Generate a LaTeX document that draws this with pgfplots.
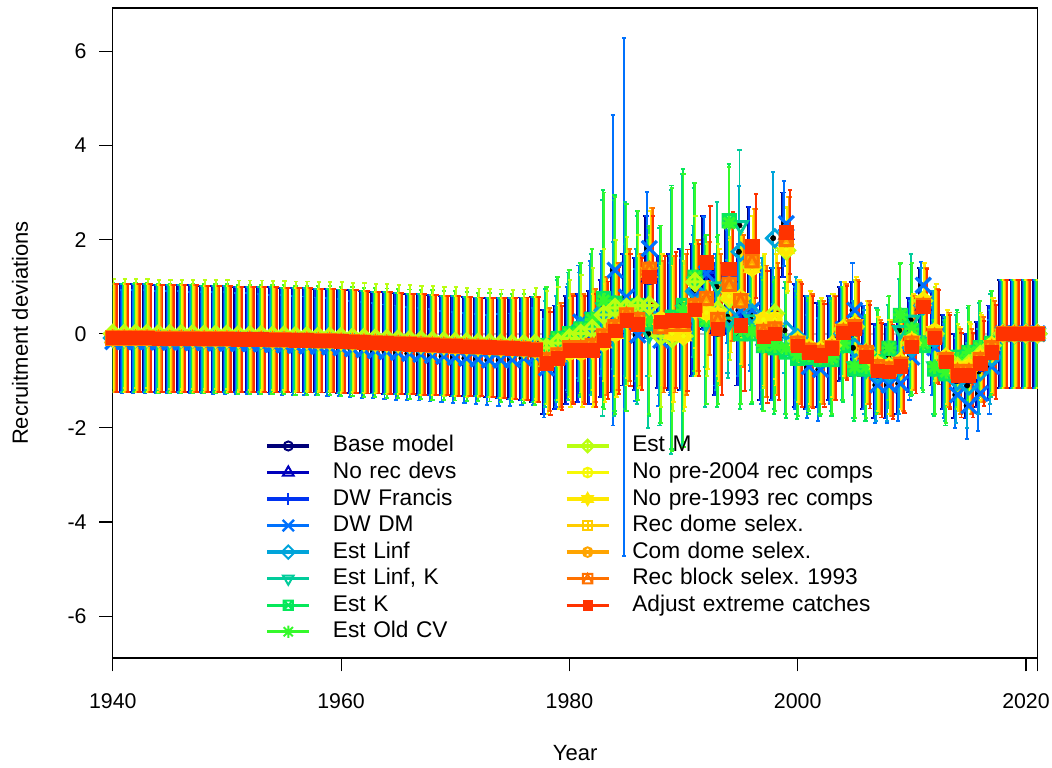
\documentclass[border=0pt]{standalone}
\usepackage{fontspec}
\setmainfont{Liberation Sans}
\usepackage{pgfplots}
\usepackage{pgfplotstable}
\pgfplotsset{compat=1.18}

\definecolor{c1}{HTML}{000079}
\definecolor{c2}{HTML}{0000BC}
\definecolor{c3}{HTML}{0033F1}
\definecolor{c4}{HTML}{0071FD}
\definecolor{c5}{HTML}{00A4DA}
\definecolor{c6}{HTML}{01CC9B}
\definecolor{c7}{HTML}{06E85A}
\definecolor{c8}{HTML}{35F92B}
\definecolor{c9}{HTML}{BAFF11}
\definecolor{c10}{HTML}{F6F905}
\definecolor{c11}{HTML}{FEE801}
\definecolor{c12}{HTML}{FFCC00}
\definecolor{c13}{HTML}{FFA400}
\definecolor{c14}{HTML}{FF7100}
\definecolor{c15}{HTML}{FF3300}
\definecolor{zgrey}{HTML}{BEBEBE}

\pgfdeclareplotmark{dia}{%
  \pgfpathmoveto{\pgfpoint{0pt}{\pgfplotmarksize}}\pgfpathlineto{\pgfpoint{\pgfplotmarksize}{0pt}}%
  \pgfpathlineto{\pgfpoint{0pt}{-\pgfplotmarksize}}\pgfpathlineto{\pgfpoint{-\pgfplotmarksize}{0pt}}\pgfpathclose
  \pgfusepathqstroke}
\pgfdeclareplotmark{sqx}{%
  \pgfpathrectangle{\pgfpoint{-\pgfplotmarksize}{-\pgfplotmarksize}}{\pgfpoint{2\pgfplotmarksize}{2\pgfplotmarksize}}%
  \pgfpathmoveto{\pgfpoint{-\pgfplotmarksize}{-\pgfplotmarksize}}\pgfpathlineto{\pgfpoint{\pgfplotmarksize}{\pgfplotmarksize}}%
  \pgfpathmoveto{\pgfpoint{-\pgfplotmarksize}{\pgfplotmarksize}}\pgfpathlineto{\pgfpoint{\pgfplotmarksize}{-\pgfplotmarksize}}%
  \pgfusepathqstroke}
\pgfdeclareplotmark{ast8}{%
  \pgfpathmoveto{\pgfpoint{-\pgfplotmarksize}{0pt}}\pgfpathlineto{\pgfpoint{\pgfplotmarksize}{0pt}}%
  \pgfpathmoveto{\pgfpoint{0pt}{-\pgfplotmarksize}}\pgfpathlineto{\pgfpoint{0pt}{\pgfplotmarksize}}%
  \pgfpathmoveto{\pgfpoint{-.75\pgfplotmarksize}{-.75\pgfplotmarksize}}\pgfpathlineto{\pgfpoint{.75\pgfplotmarksize}{.75\pgfplotmarksize}}%
  \pgfpathmoveto{\pgfpoint{-.75\pgfplotmarksize}{.75\pgfplotmarksize}}\pgfpathlineto{\pgfpoint{.75\pgfplotmarksize}{-.75\pgfplotmarksize}}%
  \pgfusepathqstroke}
\pgfdeclareplotmark{dplus}{%
  \pgfpathmoveto{\pgfpoint{0pt}{1.2\pgfplotmarksize}}\pgfpathlineto{\pgfpoint{1.2\pgfplotmarksize}{0pt}}%
  \pgfpathlineto{\pgfpoint{0pt}{-1.2\pgfplotmarksize}}\pgfpathlineto{\pgfpoint{-1.2\pgfplotmarksize}{0pt}}\pgfpathclose
  \pgfpathmoveto{\pgfpoint{-1.2\pgfplotmarksize}{0pt}}\pgfpathlineto{\pgfpoint{1.2\pgfplotmarksize}{0pt}}%
  \pgfpathmoveto{\pgfpoint{0pt}{-1.2\pgfplotmarksize}}\pgfpathlineto{\pgfpoint{0pt}{1.2\pgfplotmarksize}}%
  \pgfusepathqstroke}
\pgfdeclareplotmark{david}{%
  \pgfpathmoveto{\pgfpoint{0pt}{\pgfplotmarksize}}\pgfpathlineto{\pgfpoint{.866\pgfplotmarksize}{-.5\pgfplotmarksize}}%
  \pgfpathlineto{\pgfpoint{-.866\pgfplotmarksize}{-.5\pgfplotmarksize}}\pgfpathclose
  \pgfpathmoveto{\pgfpoint{0pt}{-\pgfplotmarksize}}\pgfpathlineto{\pgfpoint{.866\pgfplotmarksize}{.5\pgfplotmarksize}}%
  \pgfpathlineto{\pgfpoint{-.866\pgfplotmarksize}{.5\pgfplotmarksize}}\pgfpathclose
  \pgfusepathqstroke}
\pgfdeclareplotmark{splus}{%
  \pgfpathrectangle{\pgfpoint{-\pgfplotmarksize}{-\pgfplotmarksize}}{\pgfpoint{2\pgfplotmarksize}{2\pgfplotmarksize}}%
  \pgfpathmoveto{\pgfpoint{-\pgfplotmarksize}{0pt}}\pgfpathlineto{\pgfpoint{\pgfplotmarksize}{0pt}}%
  \pgfpathmoveto{\pgfpoint{0pt}{-\pgfplotmarksize}}\pgfpathlineto{\pgfpoint{0pt}{\pgfplotmarksize}}%
  \pgfusepathqstroke}
\pgfdeclareplotmark{sqtri}{%
  \pgfpathrectangle{\pgfpoint{-\pgfplotmarksize}{-\pgfplotmarksize}}{\pgfpoint{2\pgfplotmarksize}{2\pgfplotmarksize}}%
  \pgfpathmoveto{\pgfpoint{-\pgfplotmarksize}{-\pgfplotmarksize}}\pgfpathlineto{\pgfpoint{0pt}{\pgfplotmarksize}}%
  \pgfpathlineto{\pgfpoint{\pgfplotmarksize}{-\pgfplotmarksize}}%
  \pgfusepathqstroke}

% 1940-1977: a = most models, m = Est M, d = DW DM; e, em, ed = half widths of the intervals
\pgfplotstableread{
yr a m d e em ed
1940 -0.09 0.00 -0.17 1.14 1.16 1.09
1941 -0.09 0.00 -0.17 1.14 1.16 1.09
1942 -0.09 0.00 -0.17 1.14 1.16 1.09
1943 -0.09 0.00 -0.17 1.14 1.16 1.09
1944 -0.10 -0.01 -0.18 1.14 1.16 1.09
1945 -0.10 -0.01 -0.18 1.14 1.16 1.09
1946 -0.10 -0.01 -0.18 1.13 1.16 1.08
1947 -0.10 -0.01 -0.19 1.13 1.16 1.08
1948 -0.11 -0.02 -0.19 1.13 1.16 1.08
1949 -0.11 -0.02 -0.20 1.13 1.16 1.08
1950 -0.11 -0.02 -0.20 1.13 1.16 1.08
1951 -0.12 -0.03 -0.21 1.12 1.16 1.07
1952 -0.12 -0.03 -0.21 1.12 1.16 1.07
1953 -0.12 -0.03 -0.22 1.12 1.16 1.07
1954 -0.13 -0.04 -0.23 1.12 1.16 1.06
1955 -0.13 -0.04 -0.24 1.11 1.16 1.06
1956 -0.14 -0.05 -0.25 1.11 1.16 1.05
1957 -0.14 -0.05 -0.26 1.11 1.16 1.05
1958 -0.15 -0.06 -0.27 1.10 1.16 1.04
1959 -0.15 -0.06 -0.28 1.10 1.16 1.04
1960 -0.16 -0.07 -0.30 1.10 1.16 1.03
1961 -0.17 -0.08 -0.32 1.09 1.16 1.02
1962 -0.18 -0.09 -0.34 1.09 1.16 1.02
1963 -0.19 -0.10 -0.36 1.08 1.16 1.01
1964 -0.20 -0.11 -0.38 1.08 1.16 1.00
1965 -0.21 -0.12 -0.40 1.08 1.16 1.00
1966 -0.22 -0.13 -0.42 1.07 1.16 0.99
1967 -0.23 -0.14 -0.44 1.07 1.16 0.98
1968 -0.24 -0.15 -0.46 1.06 1.16 0.98
1969 -0.25 -0.16 -0.48 1.06 1.16 0.97
1970 -0.26 -0.17 -0.50 1.06 1.16 0.97
1971 -0.27 -0.18 -0.52 1.05 1.16 0.96
1972 -0.28 -0.19 -0.54 1.05 1.15 0.96
1973 -0.29 -0.20 -0.56 1.05 1.15 0.96
1974 -0.30 -0.21 -0.56 1.06 1.15 0.97
1975 -0.31 -0.22 -0.55 1.07 1.15 0.98
1976 -0.32 -0.22 -0.52 1.09 1.16 1.00
1977 -0.34 -0.21 -0.48 1.12 1.18 1.03
}\early

% 1978-2021
\pgfplotstableread{
yr B D L LK K O M Y R A e eg em ed
1978 -0.60 -0.73 -0.40 -0.30 -0.25 -0.25 -0.30 -0.60 -0.55 -0.63 1.10 1.25 1.20 1.05
1979 -0.50 -0.50 -0.30 -0.15 -0.10 -0.10 -0.20 -0.50 -0.45 -0.52 1.10 1.30 1.20 1.05
1980 -0.35 -0.10 -0.10 -0.05 0.00 0.00 -0.10 -0.40 -0.30 -0.35 1.15 1.35 1.25 1.10
1981 -0.30 0.25 0.15 0.05 0.10 0.10 0.00 -0.40 -0.30 -0.35 1.15 1.40 1.25 1.20
1982 -0.30 0.30 0.25 0.20 0.30 0.30 0.10 -0.35 -0.25 -0.35 1.20 1.50 1.30 1.25
1983 -0.10 0.40 0.50 0.55 0.75 0.70 0.40 -0.20 -0.05 -0.14 1.25 2.30 1.40 1.30
1984 0.10 1.35 0.60 0.55 0.65 0.60 0.55 0.00 0.15 0.07 1.35 2.30 1.45 3.30
1985 0.30 0.78 0.50 0.60 0.55 0.55 0.55 0.30 0.40 0.29 1.40 2.20 1.50 5.50
1986 0.20 -0.03 0.40 0.50 0.60 0.60 0.60 0.25 0.30 0.20 1.40 2.00 1.50 1.40
1987 1.20 1.81 0.40 0.00 0.25 0.30 0.60 1.30 1.37 1.21 1.30 2.00 1.50 1.20
1988 0.25 -0.14 0.10 0.15 0.20 0.20 -0.05 0.30 0.15 0.25 1.40 2.10 1.50 1.40
1989 0.25 0.10 0.20 0.25 0.35 0.30 -0.10 0.00 0.20 0.29 1.45 2.80 1.55 1.40
1990 0.30 0.20 0.30 0.50 0.60 0.50 -0.05 -0.05 0.20 0.29 1.50 2.90 1.60 1.40
1991 0.50 0.80 0.90 1.10 1.20 1.20 1.10 0.50 0.60 0.51 1.40 2.00 1.40 1.30
1992 1.30 1.28 0.50 0.25 0.30 0.30 0.50 0.45 0.75 1.52 1.20 1.80 1.40 1.20
1993 0.10 0.30 0.20 1.00 0.25 0.30 0.50 0.40 0.30 0.10 1.40 1.80 1.40 1.40
1994 1.20 1.00 0.36 0.25 2.40 2.35 0.75 0.80 1.05 1.38 1.20 1.20 1.30 1.20
1995 0.30 0.50 1.74 2.30 0.00 0.10 0.75 0.75 0.70 0.18 1.40 1.60 1.40 1.40
1996 1.60 0.50 0.43 0.30 0.00 0.05 1.41 1.40 1.55 1.86 1.10 1.50 1.10 1.30
1997 0.00 -0.10 0.20 -0.20 -0.25 -0.25 0.25 0.30 0.05 -0.07 1.40 1.40 1.40 1.40
1998 0.00 0.00 2.03 -0.20 -0.30 -0.25 0.43 0.30 0.10 0.00 1.40 1.40 1.40 1.40
1999 2.10 2.34 0.07 -0.30 -0.39 -0.30 1.77 1.80 2.00 2.16 0.90 1.40 0.90 0.90
2000 -0.25 -0.30 -0.10 -0.40 -0.52 -0.45 -0.15 -0.15 -0.20 -0.25 1.30 1.30 1.30 1.30
2001 -0.40 -0.70 -0.40 -0.45 -0.50 -0.45 -0.30 -0.30 -0.35 -0.39 1.20 1.20 1.20 1.10
2002 -0.45 -0.76 -0.50 -0.50 -0.55 -0.50 -0.35 -0.35 -0.40 -0.46 1.10 1.20 1.10 1.10
2003 -0.30 -0.40 -0.35 -0.45 -0.55 -0.50 -0.25 -0.25 -0.30 -0.31 1.10 1.20 1.10 1.10
2004 0.00 0.10 0.00 -0.20 -0.25 -0.20 0.10 0.10 0.05 0.02 1.00 1.20 1.00 1.00
2005 0.10 0.50 -0.30 -0.70 -0.75 -0.70 0.15 0.20 0.15 0.11 1.00 1.10 1.00 1.00
2006 -0.50 -0.50 -0.60 -0.75 -0.75 -0.70 -0.40 -0.40 -0.40 -0.49 1.10 1.10 1.10 1.10
2007 -0.80 -1.09 -0.85 -0.55 -0.60 -0.60 -0.65 -0.65 -0.70 -0.78 1.00 1.10 1.00 0.80
2008 -0.80 -1.09 -0.85 -0.49 -0.31 -0.30 -0.70 -0.70 -0.75 -0.81 1.00 1.10 1.00 0.80
2009 -0.70 -1.06 -0.70 0.07 0.39 0.40 -0.60 -0.60 -0.65 -0.69 1.00 1.10 1.00 0.80
2010 -0.25 -0.50 -0.30 0.29 0.07 0.10 -0.20 -0.15 -0.20 -0.27 1.00 1.40 1.00 0.90
2011 0.60 1.03 0.60 -0.15 -0.25 -0.20 0.70 0.70 0.60 0.57 0.80 1.00 0.80 0.50
2012 -0.10 -0.30 -0.10 -0.70 -0.75 -0.70 0.00 0.05 -0.05 -0.08 1.00 1.00 1.00 1.00
2013 -0.60 -0.80 -0.70 -0.75 -0.85 -0.80 -0.50 -0.50 -0.55 -0.60 1.00 1.10 1.00 1.00
2014 -0.90 -1.30 -1.00 -0.60 -0.50 -0.55 -0.70 -0.75 -0.80 -0.88 0.90 1.00 0.90 0.70
2015 -0.90 -1.53 -1.10 -0.45 -0.40 -0.40 -0.65 -0.70 -0.80 -0.88 0.90 1.00 0.90 0.70
2016 -0.65 -1.27 -0.80 -0.35 -0.30 -0.30 -0.45 -0.50 -0.55 -0.63 0.90 1.00 0.90 0.80
2017 -0.40 -0.70 -0.50 -0.25 -0.20 -0.20 -0.25 -0.25 -0.30 -0.39 1.00 1.10 1.00 1.00
2018 0 0 0 0 0 0 0 0 0 0 1.15 1.15 1.15 1.15
2019 0 0 0 0 0 0 0 0 0 0 1.15 1.15 1.15 1.15
2020 0 0 0 0 0 0 0 0 0 0 1.15 1.15 1.15 1.15
2021 0 0 0 0 0 0 0 0 0 0 1.15 1.15 1.15 1.15
}\late

% light-weight error bar: one path with two small caps
\pgfplotsset{
  error bars/draw error bar/.code 2 args={%
    \path[/pgfplots/every error bar] #1 -- #2 #1 ++(-1.6pt,0pt) -- ++(3.2pt,0pt) #2 ++(-1.6pt,0pt) -- ++(3.2pt,0pt);%
  }
}

% error bars: colour, shift, early y, early err, late y, late err
\newcommand\bars[6]{%
  \addplot[only marks, mark=none, forget plot, error bars/.cd, y dir=both, y explicit,
    error bar style={draw=#1, line width=1.4pt}]
    table[x expr=\thisrow{yr}+(#2), y=#3, y error=#4]{\early};
  \addplot[only marks, mark=none, forget plot, error bars/.cd, y dir=both, y explicit,
    error bar style={draw=#1, line width=1.4pt}]
    table[x expr=\thisrow{yr}+(#2), y=#5, y error=#6]{\late};
}
% points: colour, mark options, early y, late y
\newcommand\pts[4]{%
  \addplot[only marks, forget plot, color=#1, #2] table[x=yr, y=#3]{\early};
  \addplot[only marks, forget plot, color=#1, #2] table[x=yr, y=#4]{\late};
}

\begin{document}
\frenchspacing
\begin{tikzpicture}[font=\fontsize{16}{19.2}\selectfont]
\useasboundingbox (-84.6pt,-81.75pt) rectangle (704.4pt,493.5pt);
\begin{axis}[
  scale only axis, width=693.45pt, height=487.5pt,
  at={(0pt,0pt)}, anchor=south west,
  xmin=1940, xmax=2021, ymin=-6.89, ymax=6.92,
  axis line style={line width=0.8pt},
  tick style={line width=0.8pt, black},
  tick align=outside, major tick length=10pt,
  xtick={1940,1960,1980,2000,2020,2021},
  xticklabels={1940,1960,1980,2000,2020,{}},
  ytick={-6,-4,-2,0,2,4,6},
  yticklabels={-6,-4,-2,0,2,4,6},
  xtick pos=bottom, ytick pos=left,
  tick label style={inner sep=0pt, font=\fontsize{16}{19.2}\selectfont},
  xticklabel style={anchor=north, yshift=-16.5pt},
  yticklabel style={anchor=east, xshift=-9.5pt},
  xlabel={Year}, ylabel={Recruitment deviations},
  label style={font=\fontsize{16.5}{19.8}\selectfont},
  xlabel style={at={(axis description cs:0.5,0)}, anchor=base, yshift=-76.5pt, inner sep=0pt},
  ylabel style={at={(axis description cs:0,0.5)}, anchor=center, yshift=69.6pt, inner sep=0pt},
  legend columns=2,
  legend cell align=left,
  legend image code/.code={\draw[mark repeat=2,mark phase=2,#1] plot coordinates {(0pt,0pt)(15.75pt,0pt)(31.5pt,0pt)};},
  legend style={draw=none, fill=none, at={(rel axis cs:0.165,0.343)}, anchor=north west,
    inner sep=0pt, font=\fontsize{17}{20.4}\selectfont,
    nodes={inner sep=0pt, text width=200pt, text height=12.5pt, text depth=3.5pt},
    row sep=3.9pt,
    /tikz/every odd column/.style={column sep=16.5pt},
    /tikz/every even column/.style={column sep=-26pt}},
]
\addplot[forget plot, zgrey, line width=1.2pt] coordinates {(1940,0) (2021,0)};

\bars{c1}{-0.35}{a}{e}{B}{e}
\bars{c2}{-0.30}{a}{e}{B}{e}
\bars{c3}{-0.25}{a}{e}{B}{e}
\bars{c4}{-0.20}{d}{ed}{D}{ed}
\bars{c5}{-0.15}{a}{e}{L}{e}
\bars{c6}{-0.10}{a}{e}{LK}{eg}
\bars{c7}{-0.05}{a}{e}{K}{eg}
\bars{c8}{0}{a}{em}{O}{eg}
\bars{c9}{0.05}{m}{em}{M}{em}
\bars{c10}{0.10}{a}{e}{Y}{e}
\bars{c11}{0.15}{a}{e}{Y}{e}
\bars{c12}{0.20}{a}{e}{R}{e}
\bars{c13}{0.25}{a}{e}{R}{e}
\bars{c14}{0.30}{a}{e}{R}{e}
\bars{c15}{0.35}{a}{e}{A}{e}

\pts{c1}{mark=o, mark size=4.8pt, mark options={line width=2pt}}{a}{B}
\pts{c2}{mark=triangle, mark size=5.6pt, mark options={line width=2pt}}{a}{B}
\pts{c3}{mark=+, mark size=5.5pt, mark options={line width=2pt}}{a}{B}
\pts{c4}{mark=x, mark size=8pt, mark options={line width=2.4pt}}{d}{D}
\pts{c5}{mark=dia, mark size=6.3pt, mark options={line width=2.2pt}}{a}{L}
\pts{c6}{mark=triangle, mark size=5.8pt, mark options={line width=2.2pt, rotate=180}}{a}{LK}
\pts{c7}{mark=sqx, mark size=4.6pt, mark options={line width=2.2pt}}{a}{K}
\pts{c8}{mark=ast8, mark size=5.5pt, mark options={line width=2.2pt}}{a}{O}
\pts{c9}{mark=dplus, mark size=5.2pt, mark options={line width=2.2pt}}{m}{M}
\pts{c10}{mark=oplus, mark size=4.8pt, mark options={line width=2.2pt}}{a}{Y}
\pts{c11}{mark=david, mark size=5.6pt, mark options={line width=2.2pt}}{a}{Y}
\pts{c12}{mark=splus, mark size=4.6pt, mark options={line width=2.2pt}}{a}{R}
\pts{c13}{mark=otimes, mark size=4.8pt, mark options={line width=2.2pt}}{a}{R}
\pts{c14}{mark=sqtri, mark size=4.6pt, mark options={line width=2.2pt}}{a}{R}
\pts{c15}{mark=square*, mark size=5pt, mark options={line width=0.3pt, fill=c15}}{a}{A}

\addlegendimage{c1, line width=2.5pt, mark=o, mark options={solid, line width=1.5pt, mark size=3.4pt}}
\addlegendentry{Base model}
\addlegendimage{c9, line width=2.5pt, mark=dplus, mark options={solid, line width=1.5pt, mark size=4pt}}
\addlegendentry{Est M}
\addlegendimage{c2, line width=2.5pt, mark=triangle, mark options={solid, line width=1.5pt, mark size=4.6pt}}
\addlegendentry{No rec devs}
\addlegendimage{c10, line width=2.5pt, mark=oplus, mark options={solid, line width=1.5pt, mark size=3.6pt}}
\addlegendentry{No pre-2004 rec comps}
\addlegendimage{c3, line width=2.5pt, mark=+, mark options={solid, line width=1.5pt, mark size=4.6pt}}
\addlegendentry{DW Francis}
\addlegendimage{c11, line width=2.5pt, mark=david, mark options={solid, line width=1.5pt, mark size=4.4pt}}
\addlegendentry{No pre-1993 rec comps}
\addlegendimage{c4, line width=2.5pt, mark=x, mark options={solid, line width=1.8pt, mark size=6pt}}
\addlegendentry{DW DM}
\addlegendimage{c12, line width=2.5pt, mark=splus, mark options={solid, line width=1.5pt, mark size=3.5pt}}
\addlegendentry{Rec dome selex.}
\addlegendimage{c5, line width=2.5pt, mark=dia, mark options={solid, line width=1.5pt, mark size=5pt}}
\addlegendentry{Est Linf}
\addlegendimage{c13, line width=2.5pt, mark=otimes, mark options={solid, line width=1.5pt, mark size=3.6pt}}
\addlegendentry{Com dome selex.}
\addlegendimage{c6, line width=2.5pt, mark=triangle, mark options={solid, line width=1.5pt, mark size=4.6pt, rotate=180}}
\addlegendentry{Est Linf, K}
\addlegendimage{c14, line width=2.5pt, mark=sqtri, mark options={solid, line width=1.5pt, mark size=3.5pt}}
\addlegendentry{Rec block selex. 1993}
\addlegendimage{c7, line width=2.5pt, mark=sqx, mark options={solid, line width=1.5pt, mark size=3.5pt}}
\addlegendentry{Est K}
\addlegendimage{c15, line width=2.5pt, mark=square*, mark options={solid, line width=0.3pt, fill=c15, mark size=3.6pt}}
\addlegendentry{Adjust extreme catches}
\addlegendimage{c8, line width=2.5pt, mark=ast8, mark options={solid, line width=1.5pt, mark size=4.6pt}}
\addlegendentry{Est Old CV}
\end{axis}
\end{tikzpicture}
\end{document}
